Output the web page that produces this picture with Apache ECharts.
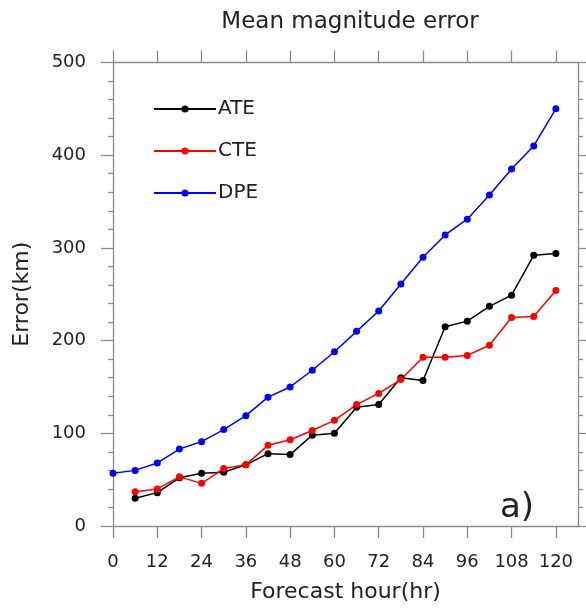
<!DOCTYPE html>
<html>
<head>
<meta charset="utf-8">
<script src="https://cdn.jsdelivr.net/npm/echarts@6/dist/echarts.min.js"></script>
<style>
  html, body { margin: 0; padding: 0; background: #fff; }
  #chart { width: 586px; height: 610px; }
</style>
</head>
<body>
<div id="chart"></div>
<script>
// forecast hours and errors (km)
const hours = [0, 6, 12, 18, 24, 30, 36, 42, 48, 54, 60, 66, 72, 78, 84, 90, 96, 102, 108, 114, 120];
const ate = [null, 30, 36, 52, 57, 58, 66, 78, 77, 98, 100, 128, 131, 160, 157, 215, 221, 237, 249, 292, 294];
const cte = [null, 37, 40, 53, 46, 62, 66, 87, 93, 103, 114, 131, 143, 158, 182, 182, 184, 195, 225, 226, 254];
const dpe = [57, 60, 68, 83, 91, 104, 119, 139, 150, 168, 188, 210, 232, 261, 290, 314, 331, 357, 385, 410, 450];
const xTicks = [0, 12, 24, 36, 48, 60, 72, 84, 96, 108, 120];

const FONT = 'DejaVu Sans';
const axisColor = '#8a8a8a';

const pairs = (vals) => hours.map((h, i) => [h, vals[i]]).filter(p => p[1] !== null);

const chart = echarts.init(document.getElementById('chart'));

const mkSeries = (name, vals, color) => ({
  name: name,
  type: 'line',
  data: pairs(vals),
  symbol: 'circle',
  symbolSize: 7,
  lineStyle: { color: color, width: 1.5 },
  itemStyle: { color: color },
  animation: false
});

const lineStyle = { show: true, onZero: false, lineStyle: { color: axisColor, width: 1.3 } };
const tickStyle = { color: axisColor, width: 1.3 };

const option = {
  backgroundColor: '#fff',
  title: {
    text: 'Mean magnitude error',
    left: 345, top: 6,
    textAlign: 'center',
    textStyle: { fontFamily: FONT, fontSize: 23, fontWeight: 'normal', color: '#222' }
  },
  legend: {
    orient: 'vertical',
    left: 153, top: 99, padding: 0,
    itemWidth: 62, itemHeight: 9, itemGap: 22,
    textStyle: { fontFamily: FONT, fontSize: 20, color: '#222', padding: [0, 0, 0, -3] },
    data: ['ATE', 'CTE', 'DPE']
  },
  grid: { left: 113, right: 8, top: 62.5, bottom: 84 },
  xAxis: [
    {
      type: 'value', min: 0, max: 126, interval: 12,
      name: 'Forecast hour(hr)', nameLocation: 'middle', nameGap: 55,
      nameTextStyle: { fontFamily: FONT, fontSize: 22, color: '#222' },
      axisLine: lineStyle,
      axisTick: { show: true, length: 12, customValues: xTicks, lineStyle: tickStyle },
      axisLabel: { customValues: xTicks, margin: 27, fontFamily: FONT, fontSize: 18, color: '#222' },
      splitLine: { show: false }
    },
    {
      type: 'value', min: 0, max: 126, interval: 12, position: 'top',
      axisLine: lineStyle,
      axisTick: { show: true, length: 12, customValues: xTicks, lineStyle: tickStyle },
      axisLabel: { show: false },
      splitLine: { show: false }
    }
  ],
  yAxis: [
    {
      type: 'value', min: 0, max: 500, interval: 100,
      name: 'Error(km)', nameLocation: 'middle', nameGap: 80,
      nameTextStyle: { fontFamily: FONT, fontSize: 22, color: '#222' },
      axisLine: lineStyle,
      axisTick: { show: true, length: 12, lineStyle: tickStyle },
      minorTick: { show: true, splitNumber: 5, length: 5, lineStyle: tickStyle },
      axisLabel: { margin: 27, fontFamily: FONT, fontSize: 18, color: '#222' },
      splitLine: { show: false }
    },
    {
      type: 'value', min: 0, max: 500, interval: 100, position: 'right',
      axisLine: lineStyle,
      axisTick: { show: true, length: 12, lineStyle: tickStyle },
      minorTick: { show: true, splitNumber: 5, length: 5, lineStyle: tickStyle },
      axisLabel: { show: false },
      splitLine: { show: false }
    }
  ],
  graphic: [
    {
      type: 'text', left: 500, top: 491,
      style: { text: 'a)', fontFamily: FONT, fontSize: 34, fill: '#222' }
    }
  ],
  series: [
    mkSeries('ATE', ate, '#000000'),
    mkSeries('CTE', cte, '#ff0000'),
    mkSeries('DPE', dpe, '#0000ff')
  ]
};

chart.setOption(option);
</script>
</body>
</html>
